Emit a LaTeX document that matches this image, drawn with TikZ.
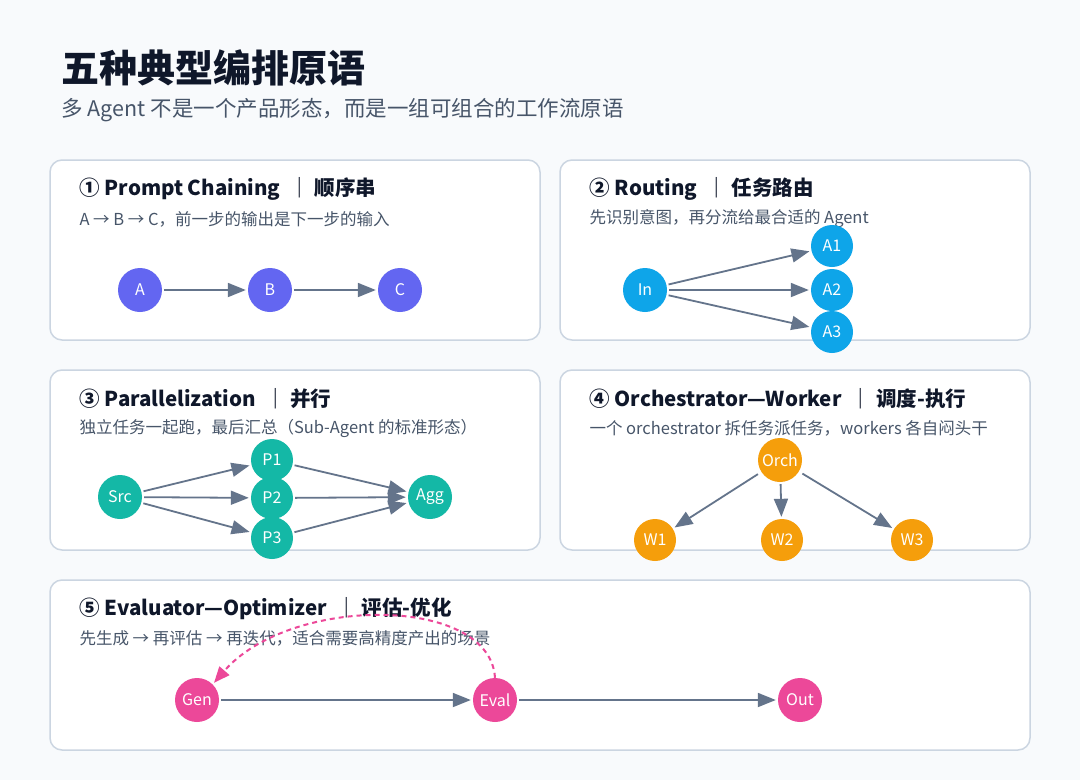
\documentclass[tikz,border=0pt]{standalone}
\usepackage{fontspec}
\setmainfont{Noto Sans CJK SC}
\usetikzlibrary{arrows.meta}
\definecolor{bg}{HTML}{F8FAFC}
\definecolor{bd}{HTML}{CBD5E1}
\definecolor{ttl}{HTML}{0F172A}
\definecolor{sub}{HTML}{475569}
\definecolor{arr}{HTML}{64748B}
\definecolor{cI}{HTML}{6366F1}
\definecolor{cS}{HTML}{0EA5E9}
\definecolor{cT}{HTML}{14B8A6}
\definecolor{cA}{HTML}{F59E0B}
\definecolor{cP}{HTML}{EC4899}
\begin{document}
\begin{tikzpicture}[x=1pt,y=-1pt,
  panel/.style={draw=bd,line width=1.5pt,fill=white,rounded corners=12pt},
  head/.style={anchor=west,font=\fontsize{20.5}{24}\selectfont\bfseries,text=ttl},
  desc/.style={anchor=west,font=\fontsize{16.5}{18}\selectfont,text=sub},
  ball/.style={circle,minimum size=44pt,inner sep=0pt,text=white,font=\fontsize{16}{18}\selectfont,fill=#1},
  ar/.style={draw=arr,line width=1.8pt,-{Triangle[length=18pt,width=14pt]},shorten >=2pt,shorten <=2pt}]
\fill[bg] (0,0) rectangle (1080,780);
\node[anchor=west,font=\fontsize{38}{44}\selectfont\bfseries,text=ttl] (t) at (58,68) {五种典型编排原语};
\node[anchor=west,font=\fontsize{21.5}{24}\selectfont,text=sub] (st) at (58,110) {多 Agent 不是一个产品形态，而是一组可组合的工作流原语};
\draw[panel] (50,160) rectangle (540,340);
\draw[panel] (560,160) rectangle (1030,340);
\draw[panel] (50,370) rectangle (540,550);
\draw[panel] (560,370) rectangle (1030,550);
\draw[panel] (50,580) rectangle (1030,750);
\node[head] (h1) at (76,189) {① Prompt Chaining \ ｜ 顺序串};
\node[desc] (d1) at (76,219) {A → B → C，前一步的输出是下一步的输入};
\node[head] (h2) at (586,189) {② Routing \ ｜ 任务路由};
\node[desc] (d2) at (586,219) {先识别意图，再分流给最合适的 Agent};
\node[head] (h3) at (76,399) {③ Parallelization \ ｜ 并行};
\node[desc] (d3) at (76,428) {独立任务一起跑，最后汇总（Sub-Agent 的标准形态）};
\node[head] (h4) at (586,399) {④ Orchestrator—Worker \ ｜ 调度-执行};
\node[desc] (d4) at (586,428) {一个 orchestrator 拆任务派任务，workers 各自闷头干};
\node[head] (h5) at (76,609) {⑤ Evaluator—Optimizer \ ｜ 评估-优化};
\node[desc] (d5) at (76,638) {先生成 → 再评估 → 再迭代，适合需要高精度产出的场景};
% panel 1
\node[ball=cI] (A) at (140,290) {A};
\node[ball=cI] (B) at (270,290) {B};
\node[ball=cI] (C) at (400,290) {C};
\draw[ar] (A) -- (B); \draw[ar] (B) -- (C);
% panel 2
\node[ball=cS] (In) at (645,290) {In};
\node[ball=cS,minimum size=42pt] (A1) at (832,246) {A1};
\node[ball=cS,minimum size=42pt] (A2) at (832,290) {A2};
\node[ball=cS,minimum size=42pt] (A3) at (832,332) {A3};
\draw[ar] (In) -- (A1); \draw[ar] (In) -- (A2); \draw[ar] (In) -- (A3);
% panel 3
\node[ball=cT] (Src) at (120,497) {Src};
\node[ball=cT,minimum size=42pt] (P1) at (272,460) {P1};
\node[ball=cT,minimum size=42pt] (P2) at (272,498) {P2};
\node[ball=cT,minimum size=42pt] (P3) at (272,538) {P3};
\node[ball=cT] (Agg) at (430,497) {Agg};
\foreach \p in {P1,P2,P3}{\draw[ar] (Src) -- (\p); \draw[ar] (\p) -- (Agg);}
% panel 4
\node[ball=cA] (O) at (780,460) {Orch};
\node[ball=cA,minimum size=42pt] (W1) at (655,540) {W1};
\node[ball=cA,minimum size=42pt] (W2) at (782,540) {W2};
\node[ball=cA,minimum size=42pt] (W3) at (912,540) {W3};
\draw[ar,shorten <=4pt] (O) -- (W1); \draw[ar] (O) -- (W2); \draw[ar,shorten <=4pt] (O) -- (W3);
% panel 5
\node[ball=cP] (G) at (197,700) {Gen};
\node[ball=cP] (E) at (495,700) {Eval};
\node[ball=cP] (Ou) at (800,700) {Out};
\draw[ar] (G) -- (E); \draw[ar] (E) -- (Ou);
\draw[draw=cP,line width=2pt,dash pattern=on 5pt off 4pt,-{Triangle[length=16pt,width=13pt]},shorten >=2pt]
  (E.north) .. controls (490,595) and (290,595) .. (G.north east);
\end{tikzpicture}
\end{document}
